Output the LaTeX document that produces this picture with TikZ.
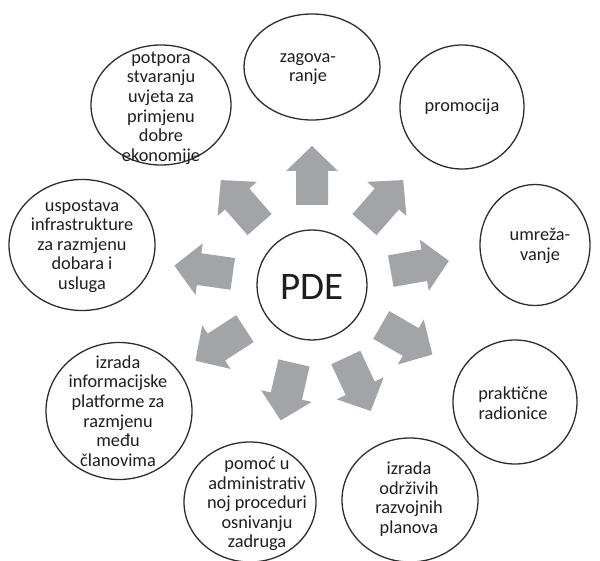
\documentclass[tikz,border=0pt]{standalone}
\usepackage{fontspec}
\setmainfont{Carlito}
\usetikzlibrary{shapes.geometric}
\definecolor{arrowgray}{RGB}{163,164,168}
\definecolor{linegray}{RGB}{45,45,45}
\definecolor{textgray}{RGB}{30,30,30}
\begin{document}
\begin{tikzpicture}[x=1pt,y=-1pt,
  bubble/.style={draw=linegray, line width=1.3pt, ellipse, inner sep=0pt},
  txt/.style={align=center, text=textgray, inner sep=0pt, font=\fontsize{18.3}{19.6}\selectfont},
  blockarrow/.style={fill=arrowgray, draw=none}]
\useasboundingbox (0,0) rectangle (600,561);
\fill[white] (0,0) rectangle (600,561);

% center
\node[bubble, minimum width=110pt, minimum height=110pt] (pde) at (312,285) {};
\node[txt, font=\fontsize{39}{40}\selectfont] (pdet) at (312,287) {PDE};

% arrows
\foreach \a in {90,49,10,-30,-65,-103,-147,172,131}{
  \begin{scope}[shift={(pde.center)}, rotate=\a]
    \fill[blockarrow] (80,-16) -- (114,-16) -- (114,-26) -- (139,0)
       -- (114,26) -- (114,16) -- (80,16) -- cycle;
  \end{scope}
}

% outer bubbles
\node[bubble, minimum width=136pt, minimum height=106pt] (zag) at (312,67) {};
\node[txt] (zagt) at (308,69) {zagova-\\ranje};

\node[bubble, minimum width=124pt, minimum height=124pt] (pro) at (462,107) {};
\node[txt] (prot) at (462,107) {promocija};

\node[bubble, minimum width=110pt, minimum height=121pt] (umr) at (535,245) {};
\node[txt] (umrt) at (540,246) {umreža-\\vanje};

\node[bubble, minimum width=124pt, minimum height=124pt] (pra) at (515,402) {};
\node[txt] (prat) at (513,403) {praktične\\radionice};

\node[bubble, minimum width=136pt, minimum height=124pt] (odr) at (410,500) {};
\node[txt] (odrt) at (409,499) {izrada\\održivih\\razvojnih\\planova};

\node[bubble, minimum width=132pt, minimum height=120pt] (pom) at (250,502) {};
\node[txt] (pomt) at (257,504) {pomoć u\\administrativ\\noj proceduri\\osnivanju\\zadruga};

\node[bubble, minimum width=146pt, minimum height=137pt] (inf) at (119,411) {};
\node[txt] (inft) at (118,411) {izrada\\informacijske\\platforme za\\razmjenu\\među\\članovima};

\node[bubble, minimum width=146pt, minimum height=131pt] (usp) at (82,245) {};
\node[txt] (uspt) at (82,246) {uspostava\\infrastrukture\\za razmjenu\\dobara i\\usluga};

\node[bubble, minimum width=140pt, minimum height=120pt] (pot) at (161,105) {};
\node[txt] (pott) at (161,108) {potpora\\stvaranju\\uvjeta za\\primjenu\\dobre\\ekonomije};
\end{tikzpicture}
\end{document}
